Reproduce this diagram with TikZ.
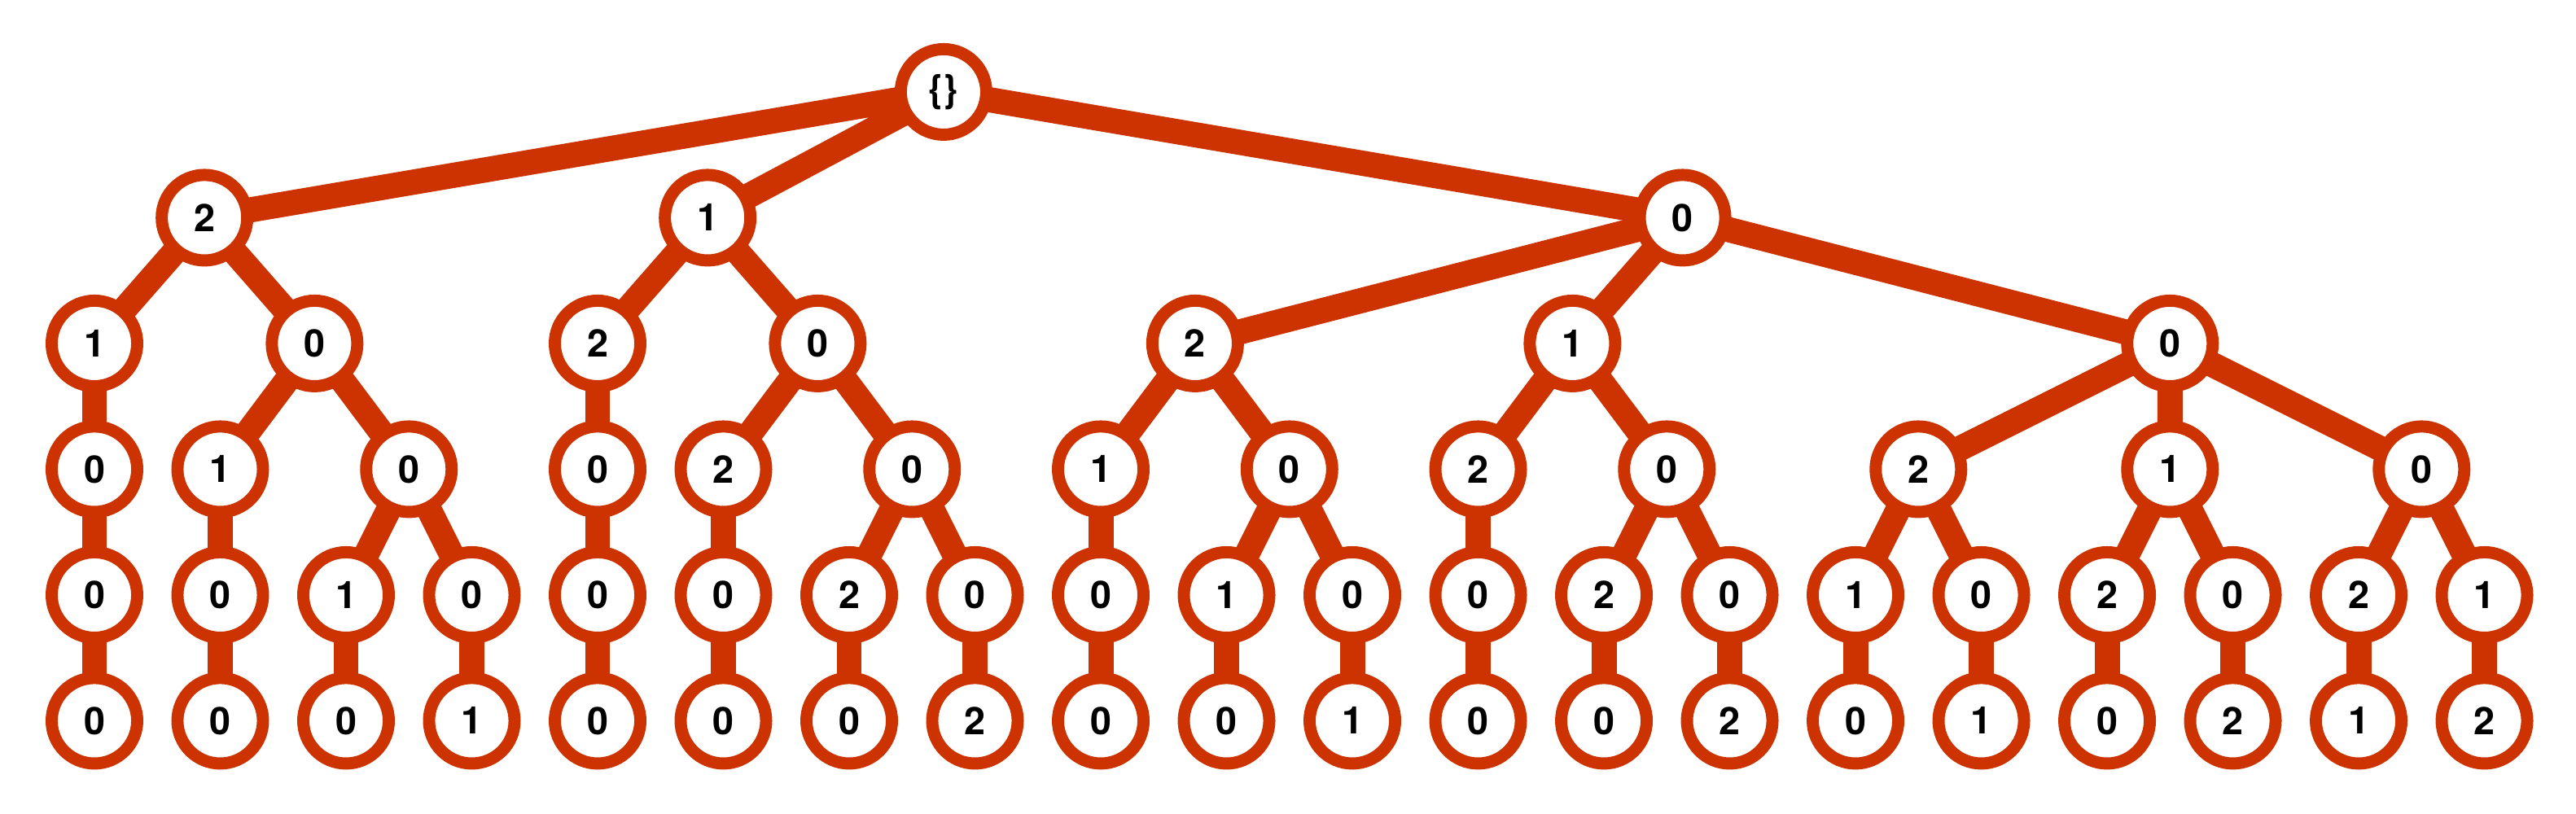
\documentclass[tikz,border=0pt]{standalone}
\usepackage{fontspec}
\newfontfamily\digfont{TeX Gyre Heros}
\usetikzlibrary{backgrounds}
\definecolor{rust}{RGB}{204,51,0}
\tikzset{
    %Define style for tree nodes
    tno/.style={
           circle,
           draw=rust, line width=2.75pt,
           fill=white,
           inner sep=0pt,
           minimum size=6.8mm,
           font={\digfont\bfseries\fontsize{8.6}{10}\selectfont}},
    % Define link style
    lnk/.style={
           draw=rust,
           line width=5.7pt}
}

\begin{document}
\begin{tikzpicture}[x=1cm, y=-1cm]
\useasboundingbox (-0.7508,-0.731) rectangle (19.728,5.7415);
%Nodes
\node[tno] (root) at (6.75,0) {\{\}};
\node[tno] (n2) at (0.875,1) {2};
\node[tno] (n1) at (4.875,1) {1};
\node[tno] (n0) at (12.625,1) {0};
% level 2
\node[tno] (n21) at (0,2) {1};
\node[tno] (n20) at (1.75,2) {0};
\node[tno] (n12) at (4,2) {2};
\node[tno] (n10) at (5.75,2) {0};
\node[tno] (n02) at (8.75,2) {2};
\node[tno] (n01) at (11.75,2) {1};
\node[tno] (n00) at (16.5,2) {0};
% level 3
\node[tno] (n210) at (0,3) {0};
\node[tno] (n201) at (1,3) {1};
\node[tno] (n200) at (2.5,3) {0};
\node[tno] (n120) at (4,3) {0};
\node[tno] (n102) at (5,3) {2};
\node[tno] (n100) at (6.5,3) {0};
\node[tno] (n021) at (8,3) {1};
\node[tno] (n020) at (9.5,3) {0};
\node[tno] (n012) at (11,3) {2};
\node[tno] (n010) at (12.5,3) {0};
\node[tno] (n002) at (14.5,3) {2};
\node[tno] (n001) at (16.5,3) {1};
\node[tno] (n000) at (18.5,3) {0};
% level 4
\node[tno] (n2100) at (0,4) {0};
\node[tno] (n2010) at (1,4) {0};
\node[tno] (n2001) at (2,4) {1};
\node[tno] (n2000) at (3,4) {0};
\node[tno] (n1200) at (4,4) {0};
\node[tno] (n1020) at (5,4) {0};
\node[tno] (n1002) at (6,4) {2};
\node[tno] (n1000) at (7,4) {0};
\node[tno] (n0210) at (8,4) {0};
\node[tno] (n0201) at (9,4) {1};
\node[tno] (n0200) at (10,4) {0};
\node[tno] (n0120) at (11,4) {0};
\node[tno] (n0102) at (12,4) {2};
\node[tno] (n0100) at (13,4) {0};
\node[tno] (n0021) at (14,4) {1};
\node[tno] (n0020) at (15,4) {0};
\node[tno] (n0012) at (16,4) {2};
\node[tno] (n0010) at (17,4) {0};
\node[tno] (n0002) at (18,4) {2};
\node[tno] (n0001) at (19,4) {1};
% level 5
\node[tno] (n21000) at (0,5) {0};
\node[tno] (n20100) at (1,5) {0};
\node[tno] (n20010) at (2,5) {0};
\node[tno] (n20001) at (3,5) {1};
\node[tno] (n12000) at (4,5) {0};
\node[tno] (n10200) at (5,5) {0};
\node[tno] (n10020) at (6,5) {0};
\node[tno] (n10002) at (7,5) {2};
\node[tno] (n02100) at (8,5) {0};
\node[tno] (n02010) at (9,5) {0};
\node[tno] (n02001) at (10,5) {1};
\node[tno] (n01200) at (11,5) {0};
\node[tno] (n01020) at (12,5) {0};
\node[tno] (n01002) at (13,5) {2};
\node[tno] (n00210) at (14,5) {0};
\node[tno] (n00201) at (15,5) {1};
\node[tno] (n00120) at (16,5) {0};
\node[tno] (n00102) at (17,5) {2};
\node[tno] (n00021) at (18,5) {1};
\node[tno] (n00012) at (19,5) {2};
%Links
\begin{scope}[on background layer]
\draw[lnk] (root.center) -- (n2.center) (root.center) -- (n1.center) (root.center) -- (n0.center);
\draw[lnk] (n2.center) -- (n21.center) (n2.center) -- (n20.center);
\draw[lnk] (n1.center) -- (n12.center) (n1.center) -- (n10.center);
\draw[lnk] (n0.center) -- (n02.center) (n0.center) -- (n01.center) (n0.center) -- (n00.center);
\draw[lnk] (n21.center) -- (n210.center);
\draw[lnk] (n20.center) -- (n201.center) (n20.center) -- (n200.center);
\draw[lnk] (n12.center) -- (n120.center);
\draw[lnk] (n10.center) -- (n102.center) (n10.center) -- (n100.center);
\draw[lnk] (n02.center) -- (n021.center) (n02.center) -- (n020.center);
\draw[lnk] (n01.center) -- (n012.center) (n01.center) -- (n010.center);
\draw[lnk] (n00.center) -- (n002.center) (n00.center) -- (n001.center) (n00.center) -- (n000.center);
\draw[lnk] (n210.center) -- (n2100.center);
\draw[lnk] (n201.center) -- (n2010.center);
\draw[lnk] (n200.center) -- (n2001.center) (n200.center) -- (n2000.center);
\draw[lnk] (n120.center) -- (n1200.center);
\draw[lnk] (n102.center) -- (n1020.center);
\draw[lnk] (n100.center) -- (n1002.center) (n100.center) -- (n1000.center);
\draw[lnk] (n021.center) -- (n0210.center);
\draw[lnk] (n020.center) -- (n0201.center) (n020.center) -- (n0200.center);
\draw[lnk] (n012.center) -- (n0120.center);
\draw[lnk] (n010.center) -- (n0102.center) (n010.center) -- (n0100.center);
\draw[lnk] (n002.center) -- (n0021.center) (n002.center) -- (n0020.center);
\draw[lnk] (n001.center) -- (n0012.center) (n001.center) -- (n0010.center);
\draw[lnk] (n000.center) -- (n0002.center) (n000.center) -- (n0001.center);
\draw[lnk] (n2100.center) -- (n21000.center) (n2010.center) -- (n20100.center);
\draw[lnk] (n2001.center) -- (n20010.center) (n2000.center) -- (n20001.center);
\draw[lnk] (n1200.center) -- (n12000.center) (n1020.center) -- (n10200.center);
\draw[lnk] (n1002.center) -- (n10020.center) (n1000.center) -- (n10002.center);
\draw[lnk] (n0210.center) -- (n02100.center) (n0201.center) -- (n02010.center);
\draw[lnk] (n0200.center) -- (n02001.center) (n0120.center) -- (n01200.center);
\draw[lnk] (n0102.center) -- (n01020.center) (n0100.center) -- (n01002.center);
\draw[lnk] (n0021.center) -- (n00210.center) (n0020.center) -- (n00201.center);
\draw[lnk] (n0012.center) -- (n00120.center) (n0010.center) -- (n00102.center);
\draw[lnk] (n0002.center) -- (n00021.center) (n0001.center) -- (n00012.center);
\end{scope}
\end{tikzpicture}
\end{document}
